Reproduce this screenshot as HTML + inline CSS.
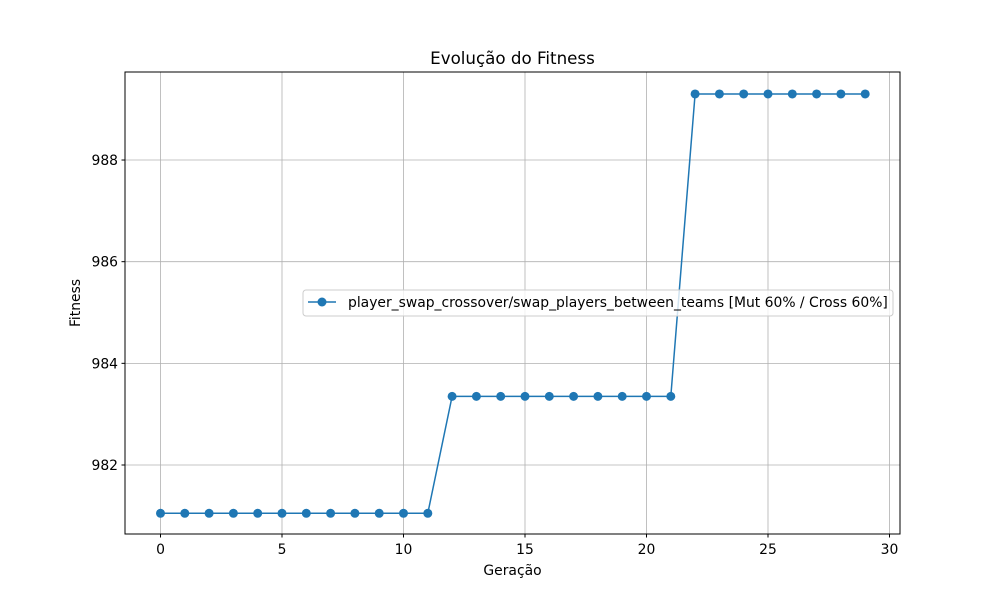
<!DOCTYPE html>
<html><head><meta charset="utf-8"><style>
body{margin:0;background:#fff;}
svg{display:block;font-family:"DejaVu Sans","Liberation Sans",sans-serif;}
</style></head><body>
<svg id="chart" width="1000" height="600">
<rect width="1000" height="600" fill="#fff"/>
<text x="512.5" y="64" text-anchor="middle" font-size="16.7">Evolução do Fitness</text>
<g id="grid"></g>
<g id="ticks"></g>
<rect x="125" y="72" width="775" height="462" fill="none" stroke="#000" stroke-width="1"/>
<g id="series"></g>
<text x="512.5" y="575" text-anchor="middle" font-size="13.9">Geração</text>
<text transform="translate(80,303) rotate(-90)" text-anchor="middle" font-size="13.9">Fitness</text>
<g>
<rect x="303" y="290" width="590" height="26" rx="3" fill="#fff" fill-opacity="0.8" stroke="#ccc"/>
<line x1="308" y1="302" x2="336" y2="302" stroke="#1f77b4" stroke-width="1.5"/>
<circle cx="322" cy="302" r="4.5" fill="#1f77b4"/>
<text x="348" y="307" font-size="13.9">player_swap_crossover/swap_players_between_teams [Mut 60% / Cross 60%]</text>
</g>
</svg>
<script>
const generations=[0,1,2,3,4,5,6,7,8,9,10,11,12,13,14,15,16,17,18,19,20,21,22,23,24,25,26,27,28,29];
const fitness=[981.05,981.05,981.05,981.05,981.05,981.05,981.05,981.05,981.05,981.05,981.05,981.05,983.35,983.35,983.35,983.35,983.35,983.35,983.35,983.35,983.35,983.35,989.3,989.3,989.3,989.3,989.3,989.3,989.3,989.3];
const xTicks=[0,5,10,15,20,25,30];
const yTicks=[982,984,986,988];
const NS="http://www.w3.org/2000/svg";
function xs(v){return 160.5+v*24.3;}
function ys(v){return 465-(v-982)*50.83;}
const grid=document.getElementById('grid'),ticks=document.getElementById('ticks'),ser=document.getElementById('series');
function mk(tag,at,parent){const e=document.createElementNS(NS,tag);for(const k in at)e.setAttribute(k,at[k]);parent.appendChild(e);return e;}
xTicks.forEach(t=>{const x=xs(t);
 const g=mk('line',{x1:x,x2:x,y1:72,y2:534,stroke:'#b0b0b0','stroke-width':0.8},grid);
 
 
 mk('line',{x1:x,x2:x,y1:534,y2:537.5,stroke:'#000'},ticks);
 const l=mk('text',{x:x,y:554,'text-anchor':'middle','font-size':13.9},ticks);l.textContent=t;
 
 
});
yTicks.forEach(t=>{const y=ys(t);
 const g=mk('line',{x1:125,x2:900,y1:y,y2:y,stroke:'#b0b0b0','stroke-width':0.8},grid);
 
 
 mk('line',{x1:121.5,x2:125,y1:y,y2:y,stroke:'#000'},ticks);
 const l=mk('text',{x:118,y:y+5,'text-anchor':'end','font-size':13.9},ticks);l.textContent=t;
 
 
});
const pts=generations.map((g,i)=>xs(g)+','+ys(fitness[i])).join(' ');
const pl=mk('polyline',{points:pts,fill:'none',stroke:'#1f77b4','stroke-width':1.5},ser);


generations.forEach((g,i)=>{const c=mk('circle',{cx:xs(g),cy:ys(fitness[i]),r:4.5,fill:'#1f77b4'},ser);
 
 
});
</script>
</body></html>
